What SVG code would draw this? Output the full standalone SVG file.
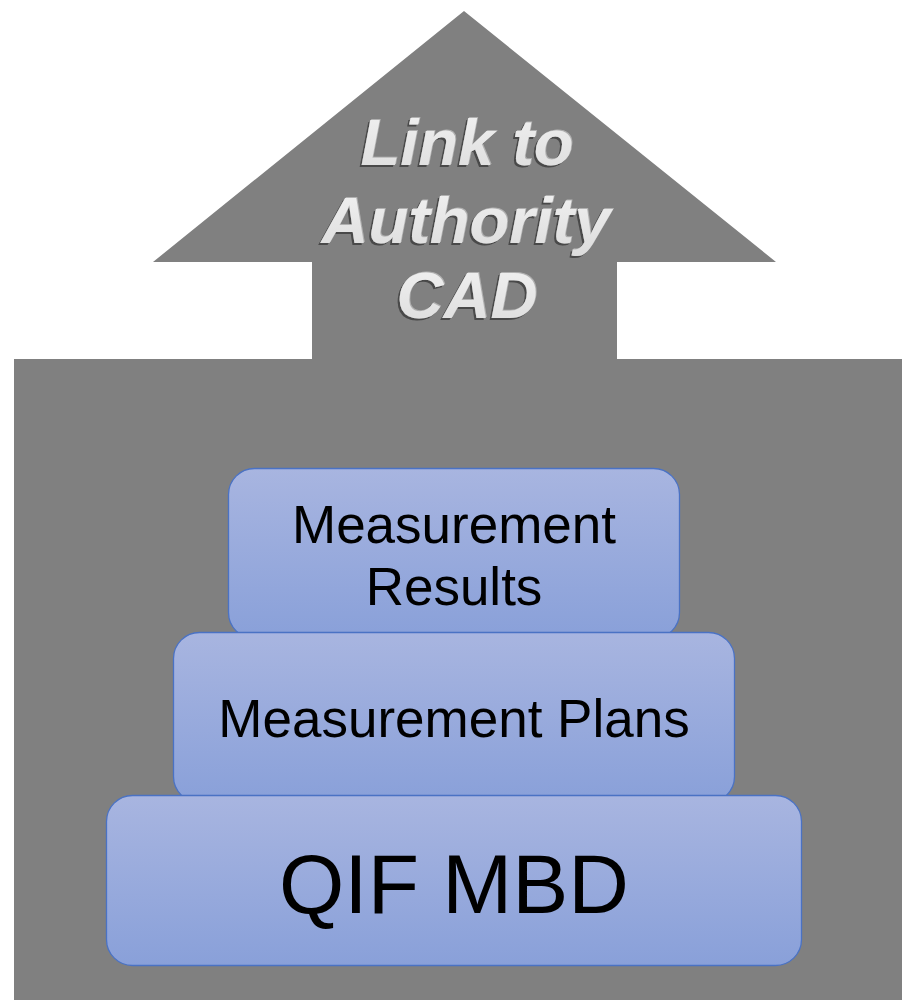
<svg xmlns="http://www.w3.org/2000/svg" width="902" height="1000" viewBox="0 0 902 1000">
  <defs>
    <linearGradient id="boxFill" x1="0" y1="0" x2="0" y2="1">
      <stop offset="0" stop-color="#A8B5E0"/>
      <stop offset="1" stop-color="#89A0D9"/>
    </linearGradient>
    <linearGradient id="embossFill" x1="0" y1="0" x2="0" y2="1">
      <stop offset="0" stop-color="#F2F2F2"/>
      <stop offset="1" stop-color="#DCDCDC"/>
    </linearGradient>
    <!-- raised-letter look: dark edge below-left, light edge above-right -->
    <filter id="emboss" x="-10%" y="-20%" width="120%" height="140%">
      <feOffset in="SourceAlpha" dx="-2" dy="2" result="dn"/>
      <feFlood flood-color="#4A4A4A"/>
      <feComposite in2="dn" operator="in" result="dark"/>
      <feOffset in="SourceAlpha" dx="1" dy="-1" result="up"/>
      <feFlood flood-color="#B0B0B0"/>
      <feComposite in2="up" operator="in" result="light"/>
      <feMerge>
        <feMergeNode in="dark"/>
        <feMergeNode in="light"/>
        <feMergeNode in="SourceGraphic"/>
      </feMerge>
    </filter>
  </defs>
  <style>
    .base { fill: #808080; }
    .tier { fill: url(#boxFill); stroke: #4A72C4; stroke-width: 1.3; }
    .label { font-family: "Liberation Sans", Arial, sans-serif; fill: #000000; text-anchor: middle; }
    .head { font-family: "Liberation Sans", Arial, sans-serif; font-weight: bold; font-style: italic; font-size: 65px; text-anchor: middle; fill: url(#embossFill); filter: url(#emboss); }
  </style>

  <!-- backdrop: upward arrow standing on a wide block -->
  <g id="backdrop">
    <polygon class="base" points="464,11 776,262 617,262 617,359 902,359 902,1000 14,1000 14,359 312,359 312,262 153,262"/>
  </g>

  <!-- embossed heading inside the arrow -->
  <g id="heading" class="head">
    <text x="467" y="165">Link to</text>
    <text x="466" y="243">Authority</text>
    <text x="467" y="318">CAD</text>
  </g>

  <!-- stacked tiers, drawn top to bottom so lower tiers overlap upper ones -->
  <g id="measurement-results">
    <rect class="tier" x="228.5" y="468.5" width="451" height="170" rx="26" ry="26"/>
    <text class="label" x="454" y="543" font-size="53">Measurement</text>
    <text class="label" x="454" y="605" font-size="53">Results</text>
  </g>

  <g id="measurement-plans">
    <rect class="tier" x="173.5" y="632.5" width="561" height="170" rx="26" ry="26"/>
    <text class="label" x="454" y="737" font-size="53">Measurement Plans</text>
  </g>

  <g id="qif-mbd">
    <rect class="tier" x="106.5" y="795.5" width="695" height="170" rx="26" ry="26"/>
    <text class="label" x="454" y="913" font-size="84">QIF MBD</text>
  </g>

  <g id="connectors"/>
</svg>
